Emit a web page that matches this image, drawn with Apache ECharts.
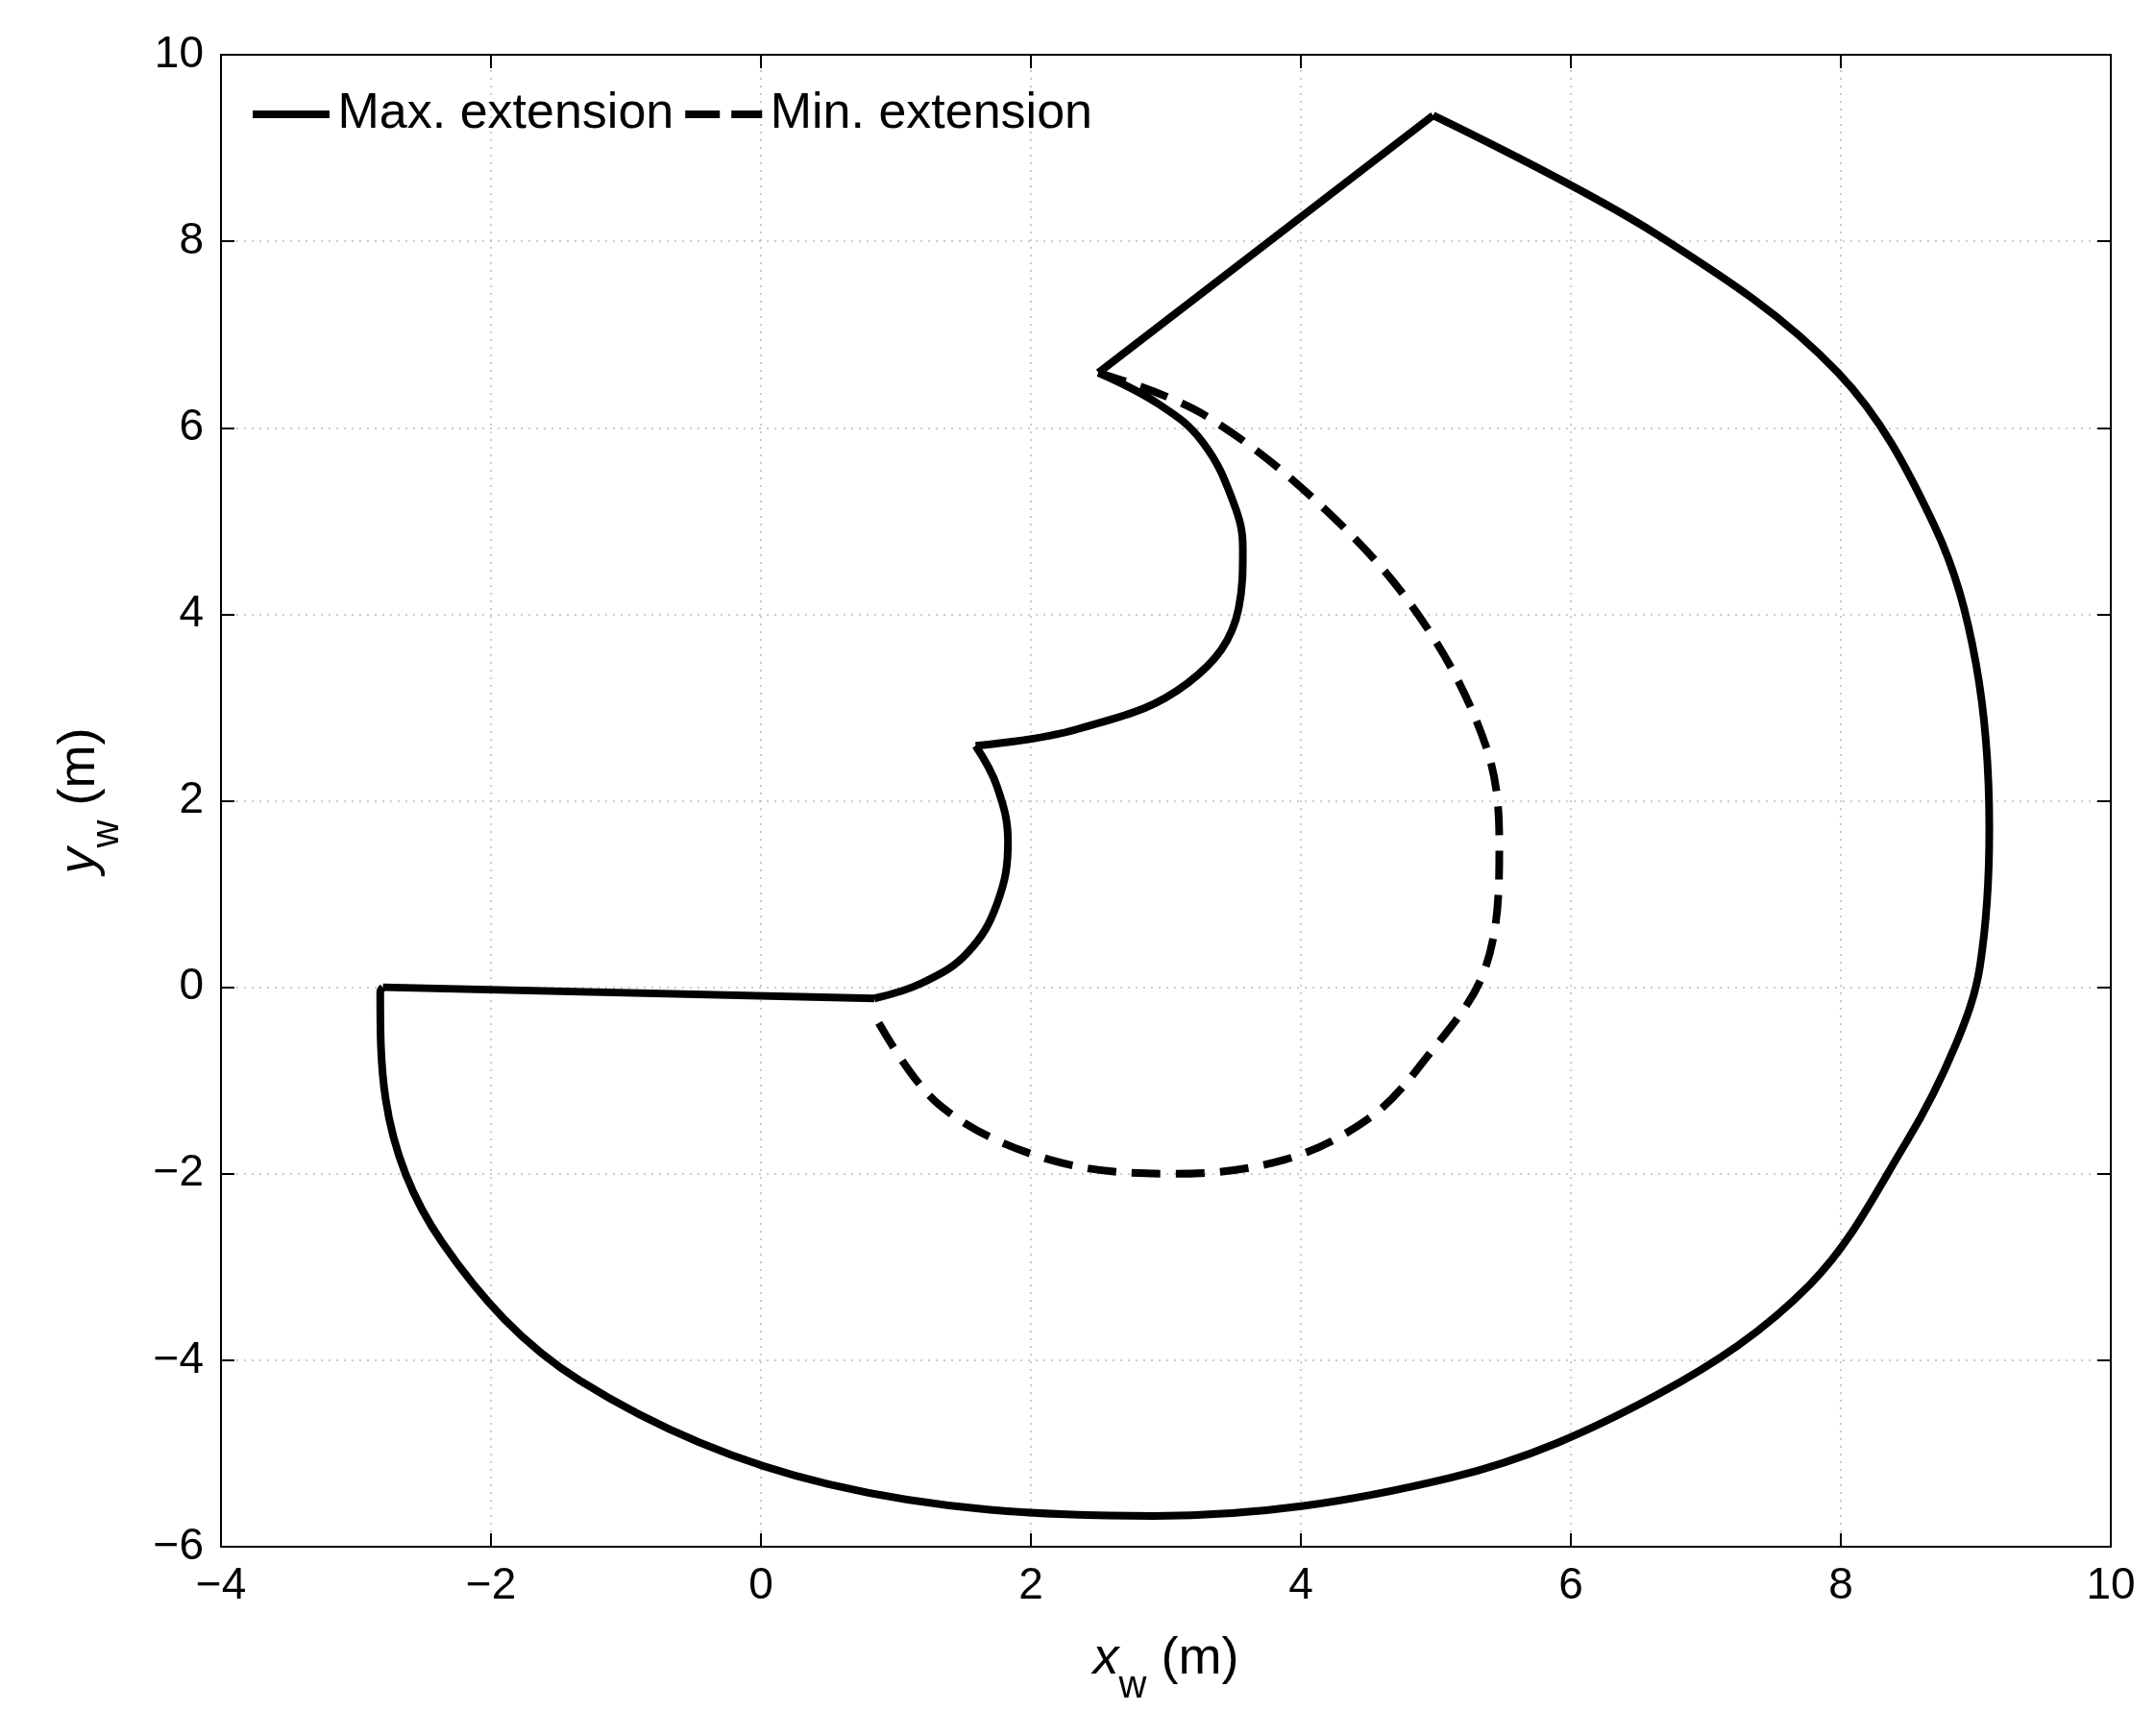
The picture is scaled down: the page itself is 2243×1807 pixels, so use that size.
<!DOCTYPE html>
<html><head><meta charset="utf-8">
<script src="https://cdn.jsdelivr.net/npm/echarts@6/dist/echarts.min.js"></script>
<style>html,body{margin:0;background:#fff}#c{width:2243px;height:1807px}</style>
</head><body><div id="c"></div>
<script>
// max extension boundary, split into straight edges and arcs
var maxEdgeBottom = [[-2.8,0],[0.84,-0.12]];
var maxArc1 = [[0.84,-0.12],[1.2,0.05],[1.53,0.37],[1.75,0.9],[1.83,1.56],[1.75,2.15],[1.59,2.59]];
var maxArc2 = [[1.59,2.59],[2.35,2.77],[3.16,3.26],[3.54,4.07],[3.57,4.7],[3.5,5.2],[3.27,5.85],[2.95,6.25],[2.5,6.59]];
var maxEdgeTop = [[2.5,6.59],[4.98,9.35]];
var maxOuter = [[4.98,9.35],[6.64,8.07],[7.98,6.59],[8.69,4.96],[9.0,3.48],[9.1,1.7],[9.03,0.22],[8.85,-0.62],
  [8.49,-1.65],[7.77,-3.19],[6.64,-4.37],[5.11,-5.26],[2.91,-5.67],[0.5,-5.33],[-1.34,-4.22],
  [-2.36,-2.74],[-2.78,-1.2],[-2.82,-0.05],[-2.8,0]];
// min extension arc
var minExt = [[2.5,6.59],[3.27,6.15],[4.19,5.11],[4.9,3.93],[5.37,2.59],[5.47,1.56],[5.37,0.22],
  [4.9,-0.81],[4.5,-1.41],[3.88,-1.85],[3.06,-2.0],[2.14,-1.85],[1.32,-1.26],[0.84,-0.3]];
var xTicks = [-4,10], yTicks = [-6,10];

var font = 'Liberation Sans';
function lbl(v){ return String(v).replace('-','\u2212'); }
var tick = {inside:true,length:14,lineStyle:{color:'#000',width:2}};
function ax(pos, r, main){
  return {type:'value', position:pos, min:r[0], max:r[1], interval:2,
    axisLine:{show:true,onZero:false,lineStyle:{color:'#000',width:2}},
    axisTick:tick, axisLabel:{show:main,color:'#000',fontSize:46,fontFamily:font,margin:18,formatter:lbl},
    splitLine:{show:main,lineStyle:{color:'#bbb',type:[2,6],width:1.5}}};
}
var nameStyle = {color:'#000',fontSize:54,fontFamily:font,rich:{i:{fontStyle:'italic',fontSize:54,fontFamily:font},
  s:{fontSize:40,fontFamily:font,verticalAlign:'bottom',padding:[0,0,-22,0]}}};
var xa = ax('bottom', xTicks, true);
xa.name = '{i|x}{s|w} (m)'; xa.nameLocation='middle'; xa.nameGap=90; xa.nameTextStyle = nameStyle;
var ya = ax('left', yTicks, true);
ya.name = '{i|y}{s|w} (m)'; ya.nameLocation='middle'; ya.nameGap=120; ya.nameTextStyle = nameStyle;

var solid = {color:'#000',width:8};
function seg(d, sm){
  return {name:'Max. extension',type:'line',data:d,smooth:sm,showSymbol:false,symbol:'none',
    lineStyle:solid,itemStyle:{color:'#000'}};
}
var chart = echarts.init(document.getElementById('c'));
chart.setOption({
  backgroundColor:'#fff', animation:false,
  grid:{left:230,right:46,top:57,bottom:197},
  legend:{left:258,top:88,itemWidth:95,itemHeight:8,itemGap:12,textStyle:{fontSize:52,fontFamily:font,color:'#000',padding:[0,0,0,-4]},
    data:[{name:'Max. extension',icon:'path://M0,0H20V2H0Z'},
          {name:'Min. extension',icon:'path://M0,0H9V2H0ZM12,0H20V2H12Z'}]},
  xAxis:[xa, ax('top', xTicks, false)],
  yAxis:[ya, ax('right', yTicks, false)],
  series:[
    seg(maxEdgeBottom,false), seg(maxArc1,0.4), seg(maxArc2,0.4), seg(maxEdgeTop,false), seg(maxOuter,0.35),
    {name:'Min. extension',type:'line',data:minExt,smooth:0.35,showSymbol:false,symbol:'none',
      lineStyle:{color:'#000',width:8,type:[30,16]},itemStyle:{color:'#000'}}
  ]
});
</script></body></html>
